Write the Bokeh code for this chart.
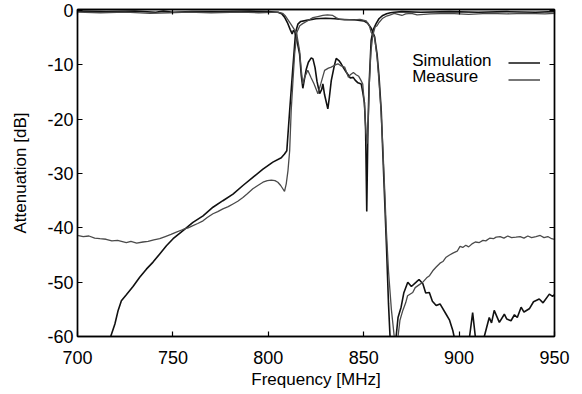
from bokeh.plotting import figure
from bokeh.models import (FixedTicker, LinearAxis, Range1d, Legend, LegendItem,
                          Label, CustomJSTickFormatter)
from bokeh.embed import file_html
from bokeh.resources import INLINE

# ---------------- data ----------------
x_ticks = [700, 750, 800, 850, 900, 950]
x_tick_labels = ["700", "750", "800", "850", "900", "950"]
y_ticks = [-60, -50, -40, -30, -20, -10, 0]
y_tick_labels = ["-60", "-50", "-40", "-30", "-20", "-10", "0"]

# transmission, simulation
sim_s21_f = [700, 712, 717.4, 719.6, 721.3, 723.0, 725.6, 729.1, 732.6, 736.1, 739.6,
             743.1, 746.6, 750.1, 755.3, 760.5, 765.8, 771.0, 776.2, 781.5, 786.7,
             791.9, 797.2, 802.4, 806.8, 808.5, 809.7, 811.2, 812.9, 814.3, 815.5,
             817, 820, 825, 830, 835, 840, 845, 850, 852, 854, 855.7, 857, 858,
             859.2, 860, 861, 862, 863, 863.8, 864.5, 866, 867, 868, 869.6, 871,
             873.1, 875, 877.5, 879, 881, 882.5, 884.4, 886, 888, 890, 893.2, 895,
             896.7, 898, 903, 905.5, 907.1, 908.5, 910, 913.2, 915.8, 917, 918.4,
             921.1, 923.7, 925, 927.2, 929, 930.5, 932.5, 934, 936.8, 939, 942, 944,
             947.3, 949, 950]
sim_s21_db = [-80, -66, -60, -57.7, -55.2, -53.4, -52.3, -50.8, -49.1, -47.6, -46.3,
              -44.8, -43.3, -42.0, -40.5, -39.0, -37.8, -36.2, -35.0, -33.8, -32.2,
              -30.7, -29.2, -27.9, -27.1, -26.4, -25.8, -18.4, -10.4, -4.0, -2.5,
              -2.0, -1.8, -1.5, -1.4, -1.5, -1.7, -1.7, -1.9, -2.3, -3.3, -4.8, -8.0, -12.0,
              -18.5, -26.0, -35.0, -44.0, -54.0, -60.0, -68.0, -64.0, -60.0, -56.5, -54.6, -52.0,
              -50.0, -50.8, -50.0, -49.5, -50.3, -52.0, -51.9, -53.5, -54.3, -54.0, -55.9, -57.0,
              -58.9, -61.0, -64.0, -60.0, -55.6, -60.0, -64.0, -60.0, -56.5, -57.5, -55.2,
              -57.4, -55.9, -56.8, -57.1, -56.0, -56.5, -54.6, -55.5, -54.9, -53.6, -53.1, -53.8,
              -52.2, -52.6, -52.3]

# transmission, measurement
meas_s21_f = [700, 703, 706, 709, 711.7, 715, 718, 721, 725.6, 728, 731, 734.3, 737, 740,
              743.1, 746, 749, 751.8, 755.3, 758, 760.5, 763, 765.8, 768, 771, 773.5,
              776.2, 779, 781.5, 784, 786.7, 789, 791.9, 794.5, 797.2, 799.5, 801.6,
              803.5, 805, 806.5, 807.6, 808.5, 809.4, 810.3, 811.2, 812, 813, 813.8,
              815, 816.5, 818, 820, 823.4, 826, 828.6, 831, 833.8, 835.5, 837.3, 840,
              845, 848, 851.3, 853, 853.9, 855.7, 857, 858, 859, 860, 861, 861.8, 863,
              864.5, 866, 867, 868, 869, 870.5, 872, 873, 875.7, 877, 879, 881, 883,
              884.5, 886.2, 888, 890, 891.5, 893.2, 895, 897, 899, 900.5, 901.9, 903.5,
              905, 907, 908.5, 910.6, 912.5, 914, 916, 918, 919.4, 921.5, 923.5, 925.5,
              927.5, 929.8, 932, 934, 936, 938, 940.3, 942.5, 944.5, 946.5, 948.5, 950]
meas_s21_db = [-41.4, -41.6, -41.5, -41.9, -42.0, -42.1, -42.4, -42.3, -42.7, -42.5, -42.8,
               -42.6, -42.5, -42.2, -42.0, -41.6, -41.2, -40.8, -40.3, -40.0, -39.6, -39.2,
               -38.7, -38.1, -37.4, -37.0, -36.5, -36.1, -35.6, -35.1, -34.4, -33.7, -32.8,
               -32.2, -31.6, -31.3, -31.2, -31.3, -31.6, -32.2, -32.8, -33.3, -31.9, -29.5,
               -25.8, -18.4, -12.5, -8.0, -4.0, -2.8, -2.4, -2.0, -1.3, -1.1, -0.9, -0.8,
               -0.9, -1.3, -1.6, -1.6, -1.7, -1.6, -1.9, -2.8, -4.0, -4.9, -8.5, -13.0,
               -18.0, -25.0, -33.0, -40.0, -48.0, -55.0, -60.0, -63.0, -60.0, -57.0, -55.2,
               -53.8, -52.5, -51.9, -51.0, -50.5, -50.0, -49.2, -48.8, -47.9, -47.2, -46.5,
               -46.2, -45.4, -45.0, -44.6, -44.3, -43.4, -43.6, -43.2, -43.5, -42.9, -42.6,
               -42.7, -42.3, -42.4, -41.9, -42.0, -41.7, -41.6, -41.9, -41.5, -41.8, -41.7,
               -41.6, -41.9, -41.5, -41.8, -41.6, -41.4, -41.8, -41.6, -42.0, -42.1]

# reflection, simulation
sim_s11_f = [700, 715, 730, 741, 745, 750, 760, 775, 790, 800, 805, 807, 808.5, 810,
             811.5, 812.5, 813.2, 814, 815, 816.4, 817.3, 818.1, 819, 819.9, 821, 822.5,
             823.4, 824.5, 825.5, 826.9, 828, 828.6, 829.5, 831.2, 832, 833, 834.5,
             835.6, 837, 838.2, 839.5, 840.8, 842, 843, 844.5, 845.5, 847, 848.7,
             849.5, 850.4, 851, 851.6, 852.2, 852.8, 853.9, 855, 856.5, 858, 860, 862,
             864, 866, 870, 880, 895, 910, 925, 940, 950]
sim_s11_db = [-0.1, -0.2, -0.1, -0.3, -0.1, -0.3, -0.2, -0.2, -0.1, -0.2, -0.3, -0.6,
              -1.2, -2.2, -3.5, -4.3, -3.6, -4.0, -5.5, -8.0, -12.0, -14.3, -12.5, -10.8,
              -9.5, -8.7, -8.9, -10.5, -13.0, -15.3, -14.5, -13.5, -15.5, -18.1, -16.0,
              -12.9, -10.3, -8.8, -9.2, -9.8, -10.6, -11.3, -11.9, -12.4, -12.3, -12.8,
              -13.3, -13.5, -15.0, -17.0, -22.0, -37.0, -22.0, -14.0, -5.5, -3.5, -2.4,
              -1.5, -0.9, -0.6, -0.4, -0.3, -0.2, -0.3, -0.2, -0.3, -0.2, -0.3, -0.2]

# reflection, measurement
meas_s11_f = [700, 712, 725, 738, 748, 758, 770, 785, 795, 805, 807.5, 809, 810.5, 812,
              813.5, 815, 816.4, 817.3, 818.1, 819, 820.7, 822.5, 824, 826, 827.5,
              829.5, 831.5, 833, 834.5, 836.5, 838.2, 840, 842, 843, 844.6, 846,
              847.4, 848.5, 849.5, 850.5, 851.2, 851.8, 852.4, 853, 853.8, 854.8, 856,
              857, 858, 860, 862, 864, 866, 868, 870, 872, 875, 878, 885, 895, 905,
              915, 925, 935, 945, 950]
meas_s11_db = [-0.3, -0.4, -0.3, -0.5, -0.4, -0.3, -0.4, -0.3, -0.4, -0.3, -0.5, -1.0,
               -1.8, -2.6, -3.4, -4.5, -7.4, -11.0, -13.5, -12.3, -11.0, -12.4, -13.5,
               -15.3, -13.5, -11.0, -10.6, -10.4, -10.1, -9.8, -10.2, -10.4, -12.3, -11.8,
               -11.4, -11.8, -12.1, -12.8, -13.5, -18.0, -22.5, -24.5, -20.0, -13.0, -7.5,
               -4.5, -3.0, -2.8, -2.2, -1.4, -1.0, -0.8, -0.5, -0.7, -0.9, -0.6, -0.5,
               -0.8, -0.6, -0.5, -0.7, -0.5, -0.6, -0.5, -0.6, -0.5]

series_names = ["Simulation", "Measure"]

# ---------------- figure ----------------
FONT = "Liberation Sans"
SIM_COLOR = "#111111"
MEAS_COLOR = "#4a4a4a"

p = figure(width=582, height=394, output_backend="svg", toolbar_location=None,
           x_range=Range1d(700, 950), y_range=Range1d(-60, 0.2),
           min_border_left=77, min_border_right=28, min_border_top=9,
           min_border_bottom=58, background_fill_color="white",
           border_fill_color="white")
p.grid.visible = False
p.outline_line_color = "black"
p.outline_line_width = 1.4

sim_r = p.line(sim_s21_f, sim_s21_db, line_color=SIM_COLOR, line_width=1.6)
p.line(sim_s11_f, sim_s11_db, line_color=SIM_COLOR, line_width=1.6)
meas_r = p.line(meas_s21_f, meas_s21_db, line_color=MEAS_COLOR, line_width=1.3)
p.line(meas_s11_f, meas_s11_db, line_color=MEAS_COLOR, line_width=1.3)


def style_axis(ax):
    ax.axis_line_color = "black"
    ax.axis_line_width = 1.4
    ax.major_tick_in = 5
    ax.major_tick_out = 0
    ax.major_tick_line_color = "black"
    ax.major_tick_line_width = 1.2
    ax.minor_tick_line_color = None
    ax.major_label_text_font = FONT
    ax.major_label_text_font_size = "18px"
    ax.major_label_text_color = "black"
    ax.axis_label_text_font = FONT
    ax.axis_label_text_font_size = "17px"
    ax.axis_label_text_font_style = "normal"
    ax.axis_label_text_color = "black"


xa = p.xaxis[0]
ya = p.yaxis[0]
xa.ticker = FixedTicker(ticks=x_ticks)
ya.ticker = FixedTicker(ticks=y_ticks)
xa.major_label_overrides = dict(zip(x_ticks, x_tick_labels))
ya.major_label_overrides = dict(zip(y_ticks, y_tick_labels))
xa.axis_label = "Frequency [MHz]"
ya.axis_label = "Attenuation [dB]"
style_axis(xa)
style_axis(ya)
xa.major_label_standoff = 14
xa.axis_label_standoff = 3
ya.major_label_standoff = 4
ya.major_label_text_align = "center"
ya.axis_label_standoff = 14

blank = CustomJSTickFormatter(code="return ''")
top = LinearAxis(ticker=FixedTicker(ticks=x_ticks), formatter=blank)
right = LinearAxis(ticker=FixedTicker(ticks=y_ticks), formatter=blank)
for ax in (top, right):
    style_axis(ax)
    ax.major_label_text_font_size = "0px"
    ax.major_label_standoff = 0
p.add_layout(top, "above")
p.add_layout(right, "right")

# legend: text to the left, line samples to the right
for name, yv in zip(series_names, [-9.2, -12.2]):
    p.add_layout(Label(x=875.4, y=yv, text=name, text_font=FONT,
                       text_font_size="17px", text_baseline="middle",
                       text_color="black"))

legend = Legend(items=[LegendItem(label=" ", renderers=[sim_r]),
                       LegendItem(label=" ", renderers=[meas_r])],
                location=(431, 248), padding=0, margin=0, spacing=0,
                glyph_width=32, glyph_height=17, label_height=17,
                label_standoff=0, label_text_font_size="10px",
                border_line_alpha=0, background_fill_alpha=0)
p.add_layout(legend, "center")

open("out.html", "w").write(file_html(p, INLINE))
